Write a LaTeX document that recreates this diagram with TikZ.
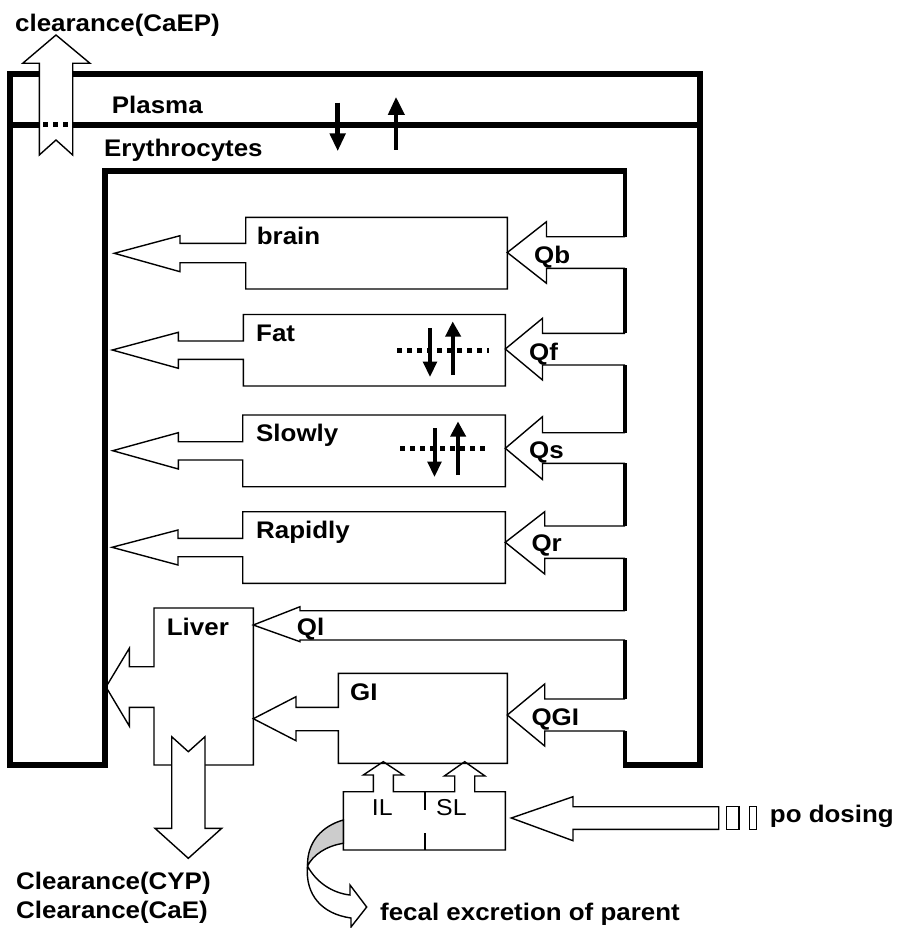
\documentclass[tikz,border=0pt]{standalone}
\usepackage{fontspec}
\setmainfont{Liberation Sans}[FakeStretch=1.08]
\begin{document}
\begin{tikzpicture}[x=1pt,y=-1pt,
  thk/.style={line width=6pt},
  conn/.style={line width=4pt},
  thn/.style={line width=1.4pt, line join=miter},
  lbl/.style={anchor=base west, inner sep=0pt, font=\fontsize{24}{28}\selectfont\bfseries},
  reg/.style={anchor=base west, inner sep=0pt, font=\fontsize{23}{28}\selectfont},
  dotline/.style={line width=5pt, dash pattern=on 5pt off 5pt},
  bar/.style={line width=4.5pt},
  tri/.style={fill=black, draw=none}]
\useasboundingbox (0,0) rectangle (898,928);

% ---- compartments (thick walls)
\draw[thk] (627,171) -- (105,171) -- (105,765) -- (10,765) -- (10,74) -- (700,74) -- (700,765) -- (623,765);
\draw[thk] (10,125) -- (700,125);
% right connectors
\draw[conn] (625,169) -- (625,236.7) (625,268.3) -- (625,333.3) (625,365) -- (625,432.7)
            (625,463.3) -- (625,526) (625,558.3) -- (625,610.7) (625,640) -- (625,699)
            (625,731) -- (625,768);

% ---- organ boxes with outflow arrows
\draw[thn] (245.7,243.3) -- (180,243.3) -- (180,235.7) -- (114.3,253.3) -- (180,271.7) -- (180,262.7) -- (245.7,262.7) -- (245.7,289) -- (507.3,289) -- (507.3,217.3) -- (245.7,217.3) -- cycle;
\draw[thn] (243.3,341) -- (178.3,341) -- (178.3,332.3) -- (112.3,350) -- (178.3,368.3) -- (178.3,359.3) -- (243.3,359.3) -- (243.3,386) -- (505.3,386) -- (505.3,314.5) -- (243.3,314.5) -- cycle;
\draw[thn] (242.7,441.7) -- (178.3,441.7) -- (178.3,432.7) -- (112.7,450.7) -- (178.3,469) -- (178.3,460) -- (242.7,460) -- (242.7,486.7) -- (505.3,486.7) -- (505.3,415) -- (242.7,415) -- cycle;
\draw[thn] (242.7,538.3) -- (178,538.3) -- (178,530) -- (112,547.3) -- (178,565) -- (178,556.7) -- (242.7,556.7) -- (242.7,583.3) -- (505.3,583.3) -- (505.3,511.7) -- (242.7,511.7) -- cycle;
\draw[thn] (154,666.7) -- (129.3,666.7) -- (129.3,648.3) -- (106,687) -- (129.3,726) -- (129.3,707.3) -- (154,707.3) -- (154,765) -- (253.3,765) -- (253.3,608) -- (154,608) -- cycle;
\draw[thn] (338.3,707.3) -- (296,707.3) -- (296,696.7) -- (253.3,718.7) -- (296,740.7) -- (296,730.7) -- (338.3,730.7) -- (338.3,763.3) -- (507.3,763.3) -- (507.3,673.3) -- (338.3,673.3) -- cycle;

% ---- inflow arrows (Q)
\draw[thn] (625,236.7) -- (546.5,236.7) -- (546.5,221.7) -- (507.3,252.5) -- (546.5,283.3) -- (546.5,268.3) -- (625,268.3);
\draw[thn] (625,333.3) -- (542.5,333.3) -- (542.5,318.3) -- (505.3,349) -- (542.5,380) -- (542.5,365) -- (625,365);
\draw[thn] (625,432.7) -- (542.5,432.7) -- (542.5,416.7) -- (505.3,448.3) -- (542.5,479.5) -- (542.5,463.3) -- (625,463.3);
\draw[thn] (625,526) -- (544.7,526) -- (544.7,511.7) -- (505.3,542.3) -- (544.7,574) -- (544.7,558.3) -- (625,558.3);
\draw[thn] (625,610.7) -- (300,610.7) -- (300,606.7) -- (253.3,625) -- (300,641.7) -- (300,640) -- (625,640);
\draw[thn] (625,699) -- (544.7,699) -- (544.7,684) -- (507.3,715) -- (544.7,746) -- (544.7,731) -- (625,731);

% ---- clearance arrows
\filldraw[thn, fill=white] (171.7,736.7) -- (188.3,751.7) -- (205,736.7) -- (205,828.3) -- (221.7,828.3) -- (188.3,858.3) -- (155,828.3) -- (171.7,828.3) -- cycle;
\filldraw[thn, fill=white] (56,35) -- (90,63.3) -- (72.7,63.3) -- (72.7,155) -- (56,140) -- (39.3,155) -- (39.3,63.3) -- (22.7,63.3) -- cycle;
\draw[dotline] (43,125) -- (70,125);

% ---- lumen box IL / SL
\draw[thn] (373.3,791.7) -- (343.3,791.7) -- (343.3,850) -- (505.3,850) -- (505.3,791.7) -- (474.7,791.7) -- (474.7,776) -- (485,776) -- (464.7,761.7) -- (444.3,776) -- (454.7,776) -- (454.7,791.7) -- (393.3,791.7) -- (393.3,775) -- (403.3,775) -- (383.3,761.7) -- (363.3,775) -- (373.3,775) -- cycle;
\draw[line width=2pt] (425,791.7) -- (425,810) (425,833.3) -- (425,850);

% ---- po dosing striped arrow
\draw[thn] (718.7,806.7) -- (573,806.7) -- (573,796.7) -- (511.3,818) -- (573,840.7) -- (573,829.3) -- (718.7,829.3) -- cycle;
\draw[thn] (726.3,806.7) rectangle (739,829.3);
\draw[thn] (749.7,806.7) rectangle (756.3,829.3);

% ---- fecal excretion curved arrow
\filldraw[thn, fill=gray!40] (343.3,820) .. controls (322,826) and (307,842) .. (307.5,866) .. controls (313,855) and (326,846) .. (343.3,843.3) -- cycle;
\filldraw[thn, fill=white] (307.5,866) .. controls (316,882) and (332,893) .. (350,895) -- (350,885) -- (366.7,907) -- (351,927) -- (351,918) .. controls (322,914) and (305,895) .. (307.5,866) -- cycle;

% ---- exchange arrows
\draw[bar] (337.7,102.7) -- (337.7,134);
\fill[tri] (329.3,133.3) -- (346,133.3) -- (337.7,150.7) -- cycle;
\draw[bar] (396,150) -- (396,114);
\fill[tri] (387.7,115) -- (405,115) -- (396,97.3) -- cycle;

\draw[dotline] (397,350) -- (489,350);
\draw[line width=4pt] (430,328.3) -- (430,362.5);
\fill[tri] (422.7,361.7) -- (437.3,361.7) -- (430,376.7) -- cycle;
\draw[line width=4pt] (452.7,375) -- (452.7,336);
\fill[tri] (445,336.7) -- (461.3,336.7) -- (452.7,321.7) -- cycle;

\draw[dotline] (400,448) -- (489,448);
\draw[line width=4pt] (434.5,428.3) -- (434.5,462.5);
\fill[tri] (427.2,461.7) -- (441.8,461.7) -- (434.5,476.7) -- cycle;
\draw[line width=4pt] (458,475) -- (458,436);
\fill[tri] (450,436.7) -- (466.3,436.7) -- (458,421.7) -- cycle;

% ---- labels
\node[lbl] (caep) at (15,31.7) {clearance(CaEP)};
\node[lbl] (plasma) at (111.7,113.3) {Plasma};
\node[lbl] (ery) at (104,156.7) {Erythrocytes};
\node[lbl] (brain) at (256.7,244.5) {brain};
\node[lbl] (fat) at (256,341) {Fat};
\node[lbl] (slowly) at (256,441.7) {Slowly};
\node[lbl] (rapidly) at (256,538.3) {Rapidly};
\node[lbl] (liver) at (166.7,635) {Liver};
\node[lbl] (ql) at (296.7,635) {Ql};
\node[lbl] (gi) at (350,700) {GI};
\node[lbl] (qb) at (534,263.3) {Qb};
\node[lbl] (qf) at (529,360) {Qf};
\node[lbl] (qs) at (529,458.3) {Qs};
\node[lbl] (qr) at (531.3,551.7) {Qr};
\node[lbl] (qgi) at (531.3,725) {QGI};
\node[lbl] (cyp) at (16,889.3) {Clearance(CYP)};
\node[lbl] (cae) at (16,918) {Clearance(CaE)};
\node[lbl] (fecal) at (380,920) {fecal excretion of parent};
\node[lbl] (po) at (769.7,822.7) {po dosing};
\node[reg] (il) at (371.7,815) {IL};
\node[reg] (sl) at (436,815) {SL};
\end{tikzpicture}
\end{document}
